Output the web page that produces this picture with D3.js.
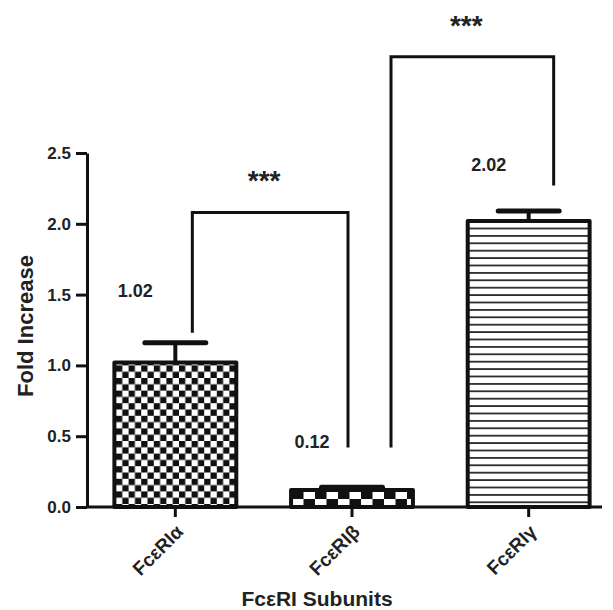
<!DOCTYPE html>
<html>
<head>
<meta charset="utf-8">
<script src="https://cdn.jsdelivr.net/npm/d3@7"></script>
<style>
  body { margin: 0; background: #fff; }
  text { font-family: "Liberation Sans", Arial, sans-serif; font-weight: bold; fill: #222; }
</style>
</head>
<body>
<div id="chart"></div>
<script>
// chart data
const categories = ['FcεRIα', 'FcεRIβ', 'FcεRIγ'];
const values = [1.02, 0.12, 2.02];
const errors = [0.14, 0.02, 0.07];
const valueLabels = ['1.02', '0.12', '2.02'];
const labelLevels = [1.48, 0.42, 2.37];
const yTicks = [0, 0.5, 1.0, 1.5, 2.0, 2.5];

// significance brackets: which bars, top level, where each leg stops
const brFrom = [0, 1];
const brTo = [1, 2];
const brTop = [2.08, 3.18];
const brLeftEnd = [1.23, 0.42];
const brRightEnd = [0.42, 2.27];
const brLabel = ['***', '***'];

const W = 613, H = 610;

const x = d3.scaleBand()
  .domain(categories)
  .range([87, 617])
  .paddingInner(0.31)
  .paddingOuter(0.155);

const y = d3.scaleLinear()
  .domain([0, 2.5])
  .range([507, 153]);

const svg = d3.select('#chart')
  .append('svg')
  .attr('width', W)
  .attr('height', H);

// fill patterns
const defs = svg.append('defs');

const p1 = defs.append('pattern')
  .attr('id', 'check-small')
  .attr('patternUnits', 'userSpaceOnUse')
  .attr('x', 116).attr('y', 0)
  .attr('width', 12.6).attr('height', 12.6);
p1.append('rect').attr('width', 12.6).attr('height', 12.6).attr('fill', '#fff');
p1.append('rect').attr('width', 6.3).attr('height', 6.3).attr('fill', '#111');
p1.append('rect').attr('x', 6.3).attr('y', 6.3).attr('width', 6.3).attr('height', 6.3).attr('fill', '#111');

const p2 = defs.append('pattern')
  .attr('id', 'check-big')
  .attr('patternUnits', 'userSpaceOnUse')
  .attr('x', 292).attr('y', 491)
  .attr('width', 23).attr('height', 16);
p2.append('rect').attr('width', 23).attr('height', 16).attr('fill', '#fff');
p2.append('rect').attr('width', 11.5).attr('height', 8).attr('fill', '#111');
p2.append('rect').attr('x', 11.5).attr('y', 8).attr('width', 11.5).attr('height', 8).attr('fill', '#111');

const p3 = defs.append('pattern')
  .attr('id', 'stripes')
  .attr('patternUnits', 'userSpaceOnUse')
  .attr('x', 0).attr('y', 0)
  .attr('width', 10).attr('height', 7.4);
p3.append('rect').attr('width', 10).attr('height', 7.4).attr('fill', '#fff');
p3.append('rect').attr('y', 5.6).attr('width', 10).attr('height', 1.9).attr('fill', '#2a2a2a');

const fills = ['url(#check-small)', 'url(#check-big)', 'url(#stripes)'];

// bars
svg.selectAll('.bar')
  .data(values)
  .enter()
  .append('rect')
  .attr('class', 'bar')
  .attr('x', (d, i) => x(categories[i]))
  .attr('width', x.bandwidth())
  .attr('y', d => y(d))
  .attr('height', d => y(0) - y(d))
  .attr('fill', (d, i) => fills[i])
  .attr('stroke', '#111')
  .attr('stroke-width', 4)
  .attr('stroke-linejoin', 'round');

// error bars
const cx = i => x(categories[i]) + x.bandwidth() / 2;
const capW = x.bandwidth() / 2;

svg.selectAll('.err')
  .data(values)
  .enter()
  .append('line')
  .attr('class', 'err')
  .attr('x1', (d, i) => cx(i))
  .attr('x2', (d, i) => cx(i))
  .attr('y1', d => y(d))
  .attr('y2', (d, i) => y(d + errors[i]))
  .attr('stroke', '#111')
  .attr('stroke-width', 4);

svg.selectAll('.cap')
  .data(values)
  .enter()
  .append('line')
  .attr('class', 'cap')
  .attr('x1', (d, i) => cx(i) - capW / 2)
  .attr('x2', (d, i) => cx(i) + capW / 2)
  .attr('y1', (d, i) => y(d + errors[i]))
  .attr('y2', (d, i) => y(d + errors[i]))
  .attr('stroke', '#111')
  .attr('stroke-width', 5)
  .attr('stroke-linecap', 'round');

// value labels
svg.selectAll('.vlabel')
  .data(valueLabels)
  .enter()
  .append('text')
  .attr('class', 'vlabel')
  .attr('x', (d, i) => cx(i) - 40)
  .attr('y', (d, i) => y(labelLevels[i]))
  .attr('text-anchor', 'middle')
  .style('font-size', '18px')
  .text(d => d);

// brackets (legs sit a little off the bar centres, as in the original)
const legOffsetL = [17, 39];
const legOffsetR = [-4, 25];
brTop.forEach((top, k) => {
  const xl = cx(brFrom[k]) + legOffsetL[k];
  const xr = cx(brTo[k]) + legOffsetR[k];
  svg.append('path')
    .attr('d', `M${xl},${y(brLeftEnd[k])}V${y(top)}H${xr}V${y(brRightEnd[k])}`)
    .attr('fill', 'none')
    .attr('stroke', '#111')
    .attr('stroke-width', 3);
  svg.append('text')
    .attr('x', (xl + xr) / 2 - 6)
    .attr('y', y(top) - 22)
    .attr('text-anchor', 'middle')
    .style('font-size', '28px')
    .text(brLabel[k]);
});

// y axis
const yAxis = svg.append('g')
  .attr('transform', 'translate(87,0)')
  .call(d3.axisLeft(y).tickValues(yTicks).tickFormat(d3.format('.1f')).tickSize(11).tickSizeOuter(0).tickPadding(5));
yAxis.select('.domain').attr('stroke', '#111').attr('stroke-width', 3);
yAxis.selectAll('.tick line').attr('stroke', '#111').attr('stroke-width', 3);
yAxis.selectAll('.tick text').style('font-size', '17px').attr('fill', '#222');

// x axis
const xAxis = svg.append('g')
  .attr('transform', `translate(0,${y(0)})`)
  .call(d3.axisBottom(x).tickSize(10).tickSizeOuter(0));
xAxis.select('.domain').attr('d', 'M87,0H602').attr('stroke', '#111').attr('stroke-width', 3);
xAxis.selectAll('.tick line').attr('stroke', '#111').attr('stroke-width', 3);
xAxis.selectAll('.tick text')
  .style('font-size', '19px')
  .attr('fill', '#222')
  .attr('text-anchor', 'end')
  .attr('y', 0)
  .attr('dy', 0)
  .attr('transform', 'translate(9,26) rotate(-45)');

// axis titles
svg.append('text')
  .attr('transform', 'translate(33,326) rotate(-90)')
  .attr('text-anchor', 'middle')
  .style('font-size', '22px')
  .text('Fold Increase');

svg.append('text')
  .attr('x', 317)
  .attr('y', 606)
  .attr('text-anchor', 'middle')
  .style('font-size', '21px')
  .text('FcεRI Subunits');
</script>
</body>
</html>
